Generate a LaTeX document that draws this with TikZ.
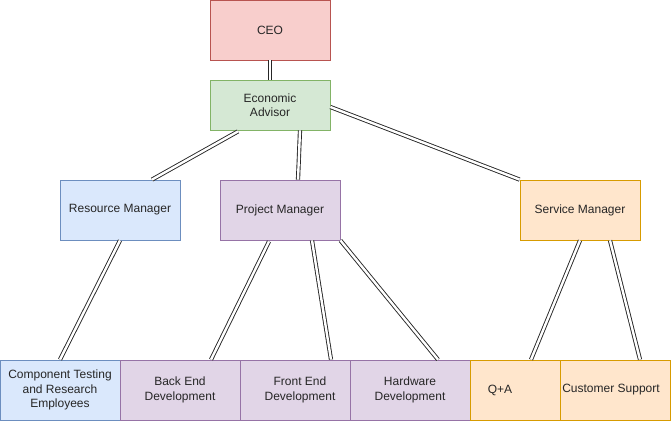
\documentclass[tikz,border=0pt]{standalone}
\usepackage{fontspec}
\setmainfont{Liberation Sans}
\usetikzlibrary{calc}
\definecolor{redf}{HTML}{F8CECC}\definecolor{redd}{HTML}{B85450}
\definecolor{grnf}{HTML}{D5E8D4}\definecolor{grnd}{HTML}{82B366}
\definecolor{bluf}{HTML}{DAE8FC}\definecolor{blud}{HTML}{6C8EBF}
\definecolor{purf}{HTML}{E1D5E7}\definecolor{purd}{HTML}{9673A6}
\definecolor{orgf}{HTML}{FFE6CC}\definecolor{orgd}{HTML}{D79B00}
\begin{document}
\begin{tikzpicture}[x=1pt,y=-1pt,
  box/.style={draw, line width=0.8pt, minimum width=120pt, minimum height=60pt, inner sep=0pt, align=center, font=\fontsize{12}{14.4}\selectfont, text=black!85},
  redbox/.style={box, fill=redf, draw=redd},
  grnbox/.style={box, fill=grnf, draw=grnd},
  blubox/.style={box, fill=bluf, draw=blud},
  purbox/.style={box, fill=purf, draw=purd},
  orgbox/.style={box, fill=orgf, draw=orgd},
  txt/.style={inner sep=0pt, align=center, font=\fontsize{12}{14.4}\selectfont, text=black!85},
  link/.style={draw=black!85, line width=0.9pt, double=white, double distance=2.4pt}]
\useasboundingbox (0,0) rectangle (671,421);
\node[redbox] (ceo) at (270,30) {CEO};
\node[grnbox, minimum height=50pt] (ea) at (270,105) {Economic\\Advisor};
\node[blubox] (rm) at (120,210) {Resource Manager};
\node[purbox] (pm) at (280,210) {Project Manager};
\node[orgbox] (sm) at (580,210) {Service Manager};
\node[blubox] (ct) at (60,390) {Component Testing\\and Research\\Employees};
\node[purbox] (be) at (180,390) {Back End\\Development};
\node[purbox] (fe) at (300,390) {Front End\\Development};
\node[purbox] (hw) at (410,390) {Hardware\\Development};
\node[orgbox, minimum width=90pt] (qa) at (515,390) {};
\node[txt] (qat) at (500,390) {Q+A};
\node[orgbox, minimum width=110pt] (cs) at (615,390) {};
\node[txt] (cst) at (611,390) {Customer Support};
\draw[link] (ceo.south) -- (ea.north);
\draw[link] ($(ea.south)+(-32,1)$) -- ($(rm.north)+(32,0)$);
\draw[link] ($(ea.south)+(30,0)$) -- ($(pm.north)+(18,0)$);
\draw[link] ($(ea.east)+(0,2)$) -- (sm.north west);
\draw[link] (rm.south) -- (ct.north);
\draw[link] ($(pm.south)+(-11,1)$) -- ($(be.north)+(31,0)$);
\draw[link] ($(pm.south)+(32,0)$) -- ($(fe.north)+(31,0)$);
\draw[link] (pm.south east) -- ($(hw.north)+(28,0)$);
\draw[link] (sm.south) -- ($(qa.north)+(16,0)$);
\draw[link] ($(sm.south)+(30,0)$) -- ($(cs.north)+(25,0)$);
\end{tikzpicture}
\end{document}
